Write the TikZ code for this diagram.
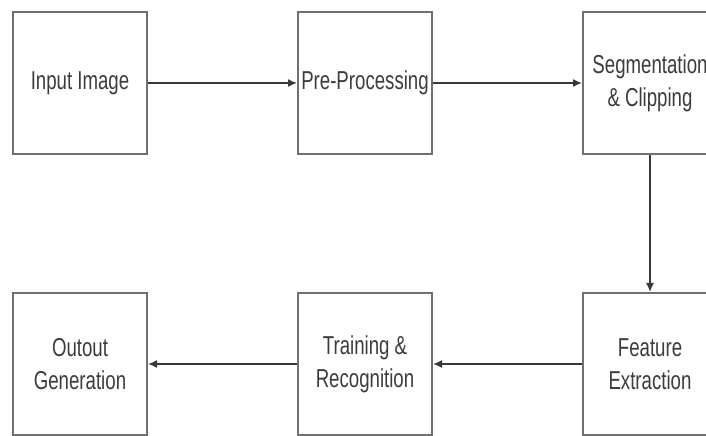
\documentclass[tikz,border=0pt]{standalone}
\usepackage{fontspec}
\setmainfont{Liberation Sans}
\newfontfamily\cfont{Liberation Sans}[FakeStretch=0.72]
\usetikzlibrary{arrows.meta}
\definecolor{boxgray}{HTML}{707070}
\definecolor{arrgray}{HTML}{383838}
\definecolor{txtgray}{HTML}{3C3C3C}
\begin{document}
\begin{tikzpicture}[x=1bp,y=-1bp,
  blk/.style={draw=boxgray, line width=2bp, minimum width=134bp, minimum height=142bp,
    inner sep=0pt, text=txtgray, font=\cfont\fontsize{26}{33}\selectfont, align=center},
  conn/.style={draw=arrgray, line width=1.5bp, -{Latex[length=9bp,width=8bp]}}]
\useasboundingbox (0,0) rectangle (706,436);
\clip (0,0) rectangle (706,436);
\node[blk] (in)    at (80,83)  {Input Image};
\node[blk] (pre)   at (365,83) {Pre-Processing};
\node[blk] (seg)   at (650,83) {Segmentation\\\& Clipping};
\node[blk] (feat)  at (650,364) {Feature\\Extraction};
\node[blk] (train) at (365,364) {Training \&\\Recognition};
\node[blk] (out)   at (80,364) {Outout\\Generation};
\draw[conn] (in) -- (pre);
\draw[conn] (pre) -- (seg);
\draw[conn] (seg) -- (feat);
\draw[conn] (feat) -- (train);
\draw[conn] (train) -- (out);
\end{tikzpicture}
\end{document}
